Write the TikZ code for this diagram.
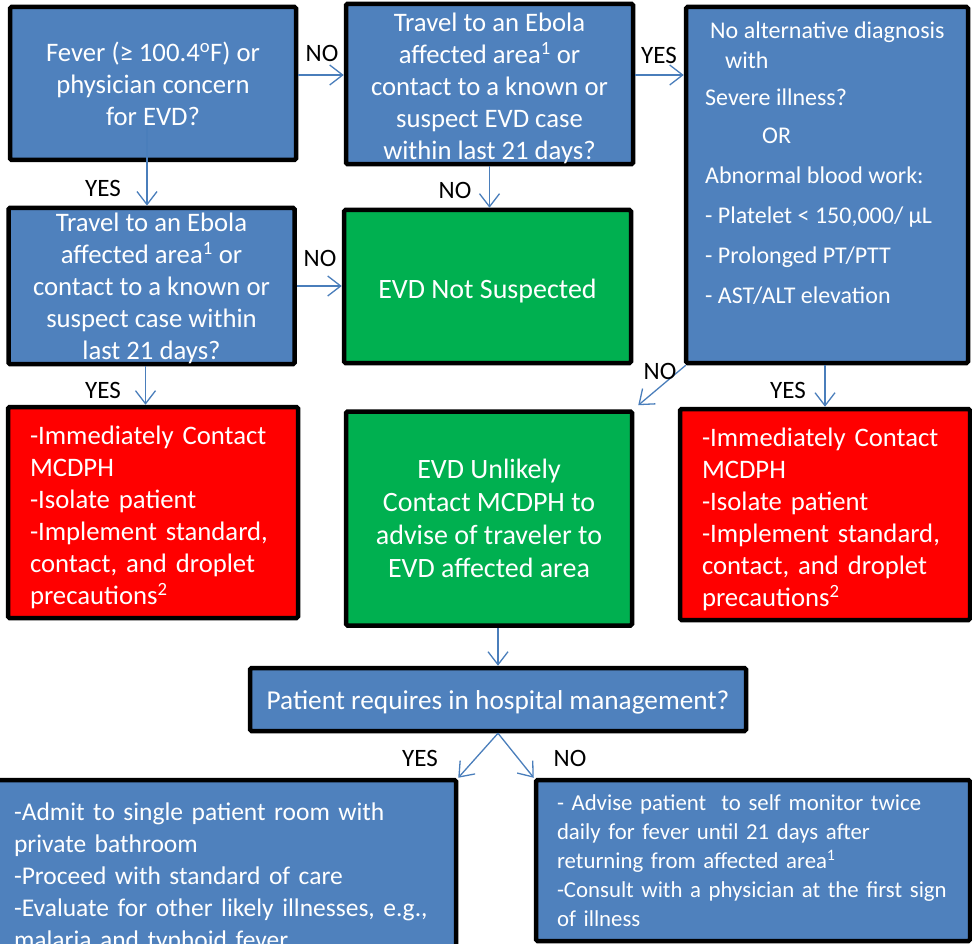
\documentclass[tikz,border=0pt]{standalone}
\usepackage{fontspec}
\setmainfont{Carlito}
\usetikzlibrary{arrows.meta}
\definecolor{bbl}{HTML}{4F81BD}
\definecolor{bgr}{HTML}{00B050}
\definecolor{brd}{HTML}{FF0000}
\definecolor{arrc}{HTML}{4A7EBB}
\begin{document}
\begin{tikzpicture}[x=1pt,y=-1pt,
 box/.style={draw=black,line width=4.5pt,rounded corners=1.5pt,text=white,inner sep=0pt,align=center},
 bluebox/.style={box,fill=bbl},
 greenbox/.style={box,fill=bgr},
 redbox/.style={box,fill=brd},
 big/.style={font=\fontsize{26.7}{32}\selectfont},
 bigger/.style={font=\fontsize{28}{33}\selectfont},
 conn/.style={draw=arrc,line width=1.3pt,-{Straight Barb[length=13pt,width=20pt,line width=1.3pt]}},
 lbl/.style={font=\fontsize{25}{28}\selectfont,text=black,inner sep=0pt}]
\useasboundingbox (0,0) rectangle (972,944);

\node[bluebox,big,minimum width=286pt,minimum height=153pt] (fever) at (153,83.5)
  {Fever (≥ 100.4\textsuperscript{o}F) or\\physician concern\\for EVD?};
\node[bluebox,big,minimum width=287pt,minimum height=154pt] (travA) at (489.5,84)
  {\rule{0pt}{28pt}Travel to an Ebola\\affected area\textsuperscript{1} or\\contact to a known or\\suspect EVD case\\within last 21 days?};
\node[bluebox,minimum width=282pt,minimum height=356pt] (crit) at (827,185) {};
\node[text=white,anchor=north west,align=left,inner sep=0pt,font=\fontsize{24}{40}\selectfont] (crittext) at (705,22)
  {\hspace{5pt}No alternative diagnosis\\[-10pt]
   \hspace{20pt}with\\[-3pt]
   Severe illness?\\[-2pt]
   \hspace{57pt}OR\\
   Abnormal blood work:\\
   - Platelet < 150,000/ µL\\
   - Prolonged PT/PTT\\
   - AST/ALT elevation};
\node[bluebox,big,minimum width=286pt,minimum height=154pt] (travB) at (151.5,286)
  {\rule{0pt}{24pt}Travel to an Ebola\\affected area\textsuperscript{1} or\\contact to a known or\\suspect case within\\last 21 days?};
\node[greenbox,bigger,minimum width=287pt,minimum height=153pt] (notsus) at (487.5,286.5)
  {\rule{0pt}{29pt}EVD Not Suspected};
\node[redbox,big,align=left,text width=246pt,inner xsep=22pt,minimum height=211pt] (redL) at (153,512.5)
  {\rule{0pt}{29pt}-Immediately Contact\\MCDPH\\-Isolate patient\\-Implement standard,\\contact, and droplet\\precautions\textsuperscript{2}};
\node[greenbox,bigger,minimum width=286pt,minimum height=214pt] (unlikely) at (489,518.5)
  {EVD Unlikely\\Contact MCDPH to\\advise of traveler to\\EVD affected area};
\node[redbox,big,align=left,text width=246pt,inner xsep=22pt,minimum height=211pt] (redR) at (825,514.5)
  {\rule{0pt}{29pt}-Immediately Contact\\MCDPH\\-Isolate patient\\-Implement standard,\\contact, and droplet\\precautions\textsuperscript{2}};
\node[bluebox,font=\fontsize{27.3}{32}\selectfont,minimum width=496pt,minimum height=63pt] (hosp) at (498,699.5)
  {\rule{0pt}{25pt}Patient requires in hospital management?};
\node[bluebox,align=left,text width=422pt,inner xsep=20pt,minimum height=196pt,font=\fontsize{25.5}{32}\selectfont] (admit) at (225,878)
  {-Admit to single patient room with\\private bathroom\\-Proceed with standard of care\\-Evaluate for other likely illnesses, e.g.,\\malaria and typhoid fever};
\node[bluebox,align=left,text width=392pt,inner xsep=21pt,minimum height=161pt,font=\fontsize{22.8}{29}\selectfont] (selfmon) at (753,860.5)
  {- Advise patient\ \ to self monitor twice\\daily for fever until 21 days after\\returning from affected area\textsuperscript{1}\\-Consult with a physician at the first sign\\of illness};

\draw[conn] ([yshift=8.5pt]fever.east) -- ([yshift=8.5pt]fever.east -| travA.west);
\node[lbl] (l1) at (322,53) {NO};
\draw[conn] ([yshift=9pt]travA.east) -- ([yshift=9pt]travA.east -| crit.west);
\node[lbl] (l2) at (659,55) {YES};
\draw[conn] ([xshift=-6pt,yshift=37pt]fever.south) -- ([xshift=-6pt]fever.south |- travB.north);
\node[lbl] (l3) at (103,188) {YES};
\draw[conn] (travA.south) -- (travA.south |- notsus.north);
\node[lbl] (l4) at (455,190) {NO};
\draw[conn] (travB.east) -- (travB.east -| notsus.west);
\node[lbl] (l5) at (320,258) {NO};
\draw[conn] ([xshift=-6pt]travB.south) -- ([xshift=-6pt]travB.south |- redL.north);
\node[lbl] (l6) at (103,390) {YES};
\draw[conn] ([xshift=2pt]crit.south west) -- ([xshift=4pt,yshift=4pt]unlikely.north east);
\node[lbl] (l7) at (660,371) {NO};
\draw[conn] (redR.north |- crit.south) -- (redR.north);
\node[lbl] (l8) at (788,390) {YES};
\draw[conn] (unlikely.south -| hosp.north) -- (hosp.north);
\draw[conn] (hosp.south) -- (admit.north east);
\node[lbl] (l9) at (420,758) {YES};
\draw[conn] (hosp.south) -- (selfmon.north west);
\node[lbl] (l10) at (570,758) {NO};
\end{tikzpicture}
\end{document}
